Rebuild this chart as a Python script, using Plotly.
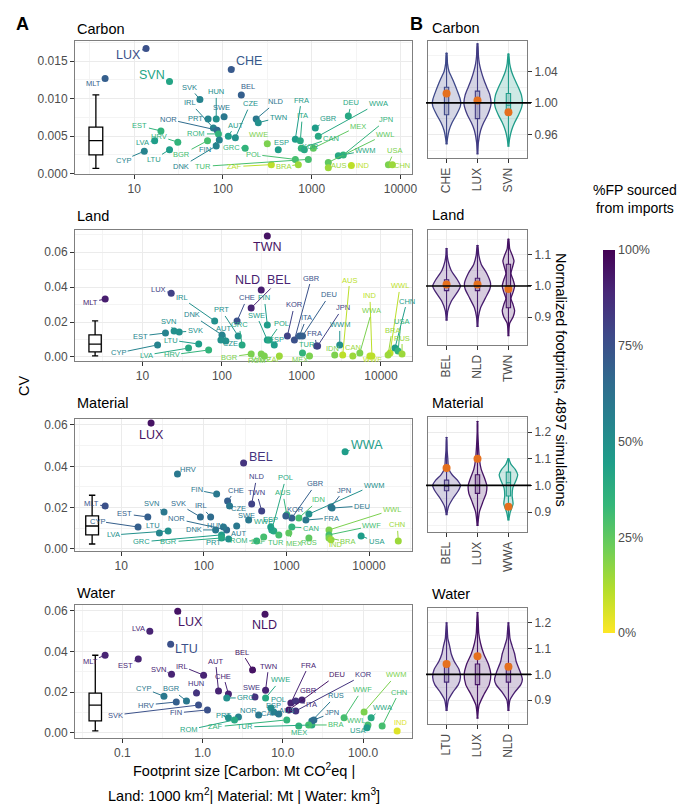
import numpy as np
import plotly.graph_objects as go
from plotly.colors import sample_colorscale

# ---------------- Panel A data (footprint size, CV, % imported) ----------------
carbon_codes = ["LUX","CHE","SVN","MLT","SVK","HUN","PRT","IRL","SWE","BEL",
                "NOR","ROM","AUT","CZE","FIN","DNK","GRC","EST","HRV","LVA",
                "CYP","LTU","BGR","NLD","TWN","WWE","ESP","POL","FRA","ITA",
                "GBR","DEU","WWA","MEX","CAN","KOR","JPN","WWL","WWM","USA",
                "CHN","IND","BRA","AUS","TUR","ZAF"]
carbon_size = [13.6,124,25,4.7,55,84,68,78,103,161,
               86,89,115,138,91,84,178,20,31,17,
               13,25,67,237,250,316,420,654,654,744,
               1098,2586,1186,1043,764,826,2270,1538,1995,7310,
               8110,2795,707,1538,916,351]
carbon_cv = [0.0167,0.0139,0.0123,0.0127,0.0099,0.0073,0.0073,0.0061,0.0076,0.0105,
             0.0058,0.0053,0.0050,0.0048,0.0045,0.0037,0.0034,0.0057,0.0042,0.0044,
             0.0030,0.0032,0.0044,0.0073,0.0068,0.0040,0.0032,0.0019,0.0046,0.0044,
             0.0061,0.0077,0.0050,0.0034,0.0034,0.0032,0.0025,0.0015,0.0024,0.0012,
             0.0012,0.0011,0.0012,0.0008,0.0019,0.0012]
carbon_imp = [75,72,42,70,55,50,55,55,60,70,
              65,35,45,50,55,55,35,35,35,45,
              55,45,30,60,50,20,45,30,45,40,
              45,40,40,25,35,40,35,25,40,20,
              15,10,15,15,30,10]
carbon_big = ["LUX","CHE","SVN"]
carbon_lab_dx = [-18,18,-18,-12,-10,0,-13,-23,-3,7,
                 -49,-22,7,15,-14,-35,-14,-21,-19,-12,
                 -21,-16,-26,20,20,-9,3,-42,6,2,
                 13,3,60,45,30,6,43,57,27,6,
                 10,12,-15,10,-105,-37]
carbon_lab_dy = [7,-8,-6,5,-12,-27,0,-25,-9,-8,
                 -11,0,-11,-34,10,21,-1,-5,-6,2,
                 9,10,14,-17,-5,-9,-7,-5,-39,-25,
                 -9,-13,-33,-22,-10,-3,-35,-28,-5,-14,
                 1,0,2,-2,7,2]

land_codes = ["TWN","NLD","BEL","MLT","LUX","IRL","DNK","PRT","CHE","FIN",
              "SWE","GRC","AUT","CZE","SVN","SVK","EST","LTU","CYP","LVA",
              "HRV","BGR","ROM","POL","ESP","KOR","GBR","ITA","DEU","FRA",
              "TUR","JPN","WWM","IDN","AUS","IND","WWA","CAN","WWL","CHN",
              "USA","BRA","RUS","MEX","ZAF","WWE","WWF"]
land_size = [372,312,233,3.4,23,81,100,160,155,372,
             372,179,112,97,25,29,19.5,51,15.5,38,
             68,233,312,394,455,665,815,943,1030,1549,
             1030,1596,3030,2620,3300,7690,5420,4424,13000,15000,
             16400,12280,18400,1262,527,341,7260]
land_cv = [0.0691,0.0383,0.0280,0.0331,0.0365,0.0206,0.0126,0.0120,0.0206,0.0183,
           0.0097,0.0069,0.0091,0.0097,0.0148,0.0143,0.0137,0.0074,0.0069,0.0051,
           0.0040,0.0017,0.0017,0.0097,0.0069,0.0120,0.0097,0.0120,0.0120,0.0063,
           0.0023,0.0063,0.0069,0.0011,0.0011,0.0006,0.0023,0.0006,0.0023,0.0051,
           0.0034,0.0011,0.0017,0.0006,0.0006,0.0006,0.0006]
land_imp = [95,92,90,92,80,50,55,50,75,45,
            45,40,50,50,50,50,55,45,55,40,
            35,20,20,40,45,80,75,70,70,75,
            35,80,50,20,10,10,20,15,10,45,
            35,15,15,20,15,20,10]
land_big = ["TWN","NLD","BEL"]
land_lab_dx = [0,-14,28,-15,-13,-33,-30,-17,10,-3,
               -11,-3,-2,10,-6,16,-25,-28,-39,-42,
               -37,-22,-4,12,2,7,17,7,27,-2,
               5,25,0,-2,7,-2,12,0,10,12,
               3,4,0,-10,-5,-3,3]
land_lab_dy = [11,-10,-28,3,-4,-23,-20,-26,-23,-27,
               -25,-20,-13,3,-10,-1,3,-4,8,7,
               5,3,6,-17,-5,-31,-62,-18,-41,-12,
               -8,-38,-20,-7,-75,-60,-42,-8,-67,-47,
               -30,-25,-16,4,4,4,4]

material_codes = ["LUX","BEL","WWA","HRV","MLT","FIN","CHE","NLD","TWN","CZE",
                  "SVN","EST","SVK","IRL","NOR","CYP","LTU","LVA","DNK","HUN",
                  "GRC","BGR","PRT","AUT","ROM","SWE","WWE","POL","GBR","AUS",
                  "KOR","JPN","IDN","DEU","FRA","WWM","WWL","WWF","CHN","USA",
                  "BRA","CAN","MEX","ESP","TUR","RUS","IND","ZAF"]
material_size = [23,303,5130,48,6.4,143,194,380,502,205,
                 33,21,91,121,189,16,29,37,139,173,
                 164,164,200,250,437,349,703,665,1163,1011,
                 984,3466,1414,3565,1720,1871,3275,3275,22600,8020,
                 3275,1163,1069,646,809,1871,3466,531]
material_cv = [0.0610,0.0416,0.0470,0.0363,0.0208,0.0266,0.0232,0.0218,0.0184,0.0208,
               0.0179,0.0155,0.0155,0.0155,0.0092,0.0106,0.0077,0.0087,0.0092,0.0106,
               0.0068,0.0053,0.0048,0.0111,0.0039,0.0140,0.0087,0.0092,0.0150,0.0165,
               0.0160,0.0203,0.0150,0.0198,0.0140,0.0169,0.0092,0.0068,0.0039,0.0063,
               0.0053,0.0106,0.0077,0.0106,0.0068,0.0053,0.0044,0.0058]
material_imp = [95,85,45,60,75,60,70,80,80,60,
                60,70,65,65,65,70,55,50,60,60,
                45,40,50,60,35,60,40,40,70,35,
                70,70,30,60,60,50,20,30,15,45,
                20,35,25,45,30,25,15,30]
material_big = ["LUX","BEL","WWA"]
material_lab_dx = [0,17,22,11,-14,-20,8,5,-5,9,
                   -13,-23,-22,-10,-50,-41,-6,-55,-22,-8,
                   -80,-53,-15,2,-18,-2,-10,14,24,-4,
                   10,13,20,30,26,65,63,43,-1,15,
                   19,19,5,0,-3,0,5,-5]
material_lab_dy = [12,-6,-7,-4,-2,-4,-11,-27,-18,3,
                   -8,-3,-13,-11,-11,-6,-8,4,0,-2,
                   7,4,3,7,0,-5,-9,-52,-34,-22,
                   -6,-17,-18,-2,-2,-29,-20,-9,-16,6,
                   4,1,10,-8,8,5,5,5]

water_codes = ["LUX","NLD","LTU","LVA","MLT","EST","SVN","IRL","HUN","AUT",
               "CHE","BEL","TWN","SWE","WWE","BGR","CYP","HRV","SVK","FIN",
               "GRC","NOR","PRT","ROM","ZAF","TUR","CAN","POL","FRA","DEU",
               "GBR","ITA","KOR","RUS","JPN","WWF","WWM","CHN","WWA","WWL",
               "USA","IND","BRA","MEX","ESP","AUS"]
water_size = [0.49,6.0,0.40,0.22,0.061,0.158,0.41,1.03,0.84,1.58,
              2.1,4.2,6.1,4.5,6.1,0.63,0.33,0.47,0.89,1.15,
              2.0,2.8,2.1,2.5,11.2,23,5.0,7.1,12.6,11.9,
              17.3,14.5,14.5,23,24.4,58,103,173,126,115,
              112,266,21,15.8,7.7,8.9]
water_cv = [0.0598,0.0583,0.0436,0.0500,0.0382,0.0363,0.0289,0.0284,0.0196,0.0206,
            0.0191,0.0309,0.0210,0.0176,0.0172,0.0157,0.0180,0.0152,0.0137,0.0113,
            0.0172,0.0078,0.0074,0.0064,0.0064,0.0039,0.0088,0.0123,0.0147,0.0113,
            0.0162,0.0157,0.0108,0.0059,0.0064,0.0074,0.0103,0.0034,0.0074,0.0039,
            0.0025,0.0010,0.0039,0.0034,0.0103,0.0093]
water_imp = [95,95,75,90,90,90,90,90,85,90,
             90,95,90,85,40,60,60,70,75,75,
             50,55,50,40,35,40,60,50,90,95,
             90,85,85,60,65,30,20,30,40,30,
             45,5,30,35,55,60]
water_big = ["LUX","NLD","LTU"]
water_lab_dx = [13,-1,16,-11,-15,-13,-13,-22,-1,-3,
                -5,-11,3,-3,15,-15,-20,-30,-83,-31,
                19,10,-5,-46,-71,-67,10,8,18,48,
                7,16,68,24,18,18,32,17,11,-12,
                -10,4,27,0,0,8]
water_lab_dy = [11,11,5,-3,6,6,-5,-9,-10,-30,
                -18,-18,-24,-10,-18,-12,-8,3,10,3,
                0,-7,-2,10,7,2,-2,-8,-38,-35,
                -9,4,-36,-25,-7,-28,-37,-34,-10,-4,
                3,-8,0,6,-6,-4]

# Box plot summaries of CV (lower whisker, q1, median, q3, upper whisker)
carbon_box = [0.0007, 0.0025, 0.0044, 0.0062, 0.0105]
land_box = [0.0006, 0.0029, 0.0074, 0.0126, 0.0206]
material_box = [0.0024, 0.0068, 0.0111, 0.0160, 0.0260]
water_box = [0.0010, 0.0059, 0.0137, 0.0196, 0.0382]

# ---------------- Panel B data (normalized footprint density profiles) ----------------
carbon_v_cats = ["CHE", "LUX", "SVN"]
carbon_v_imp = [78, 82, 45]
carbon_v_y = [[0.948,0.955,0.965,0.975,0.985,0.995,1.0,1.005,1.015,1.025,1.033,1.04,1.05,1.063],
              [0.935,0.95,0.965,0.975,0.985,0.995,1.0,1.01,1.02,1.03,1.04,1.05,1.06,1.075],
              [0.945,0.955,0.965,0.975,0.985,0.995,1.0,1.01,1.02,1.03,1.04,1.05,1.062]]
carbon_v_w = [[0.01,0.03,0.08,0.18,0.32,0.44,0.46,0.44,0.35,0.25,0.16,0.08,0.03,0.01],
              [0.01,0.03,0.10,0.20,0.33,0.42,0.44,0.40,0.30,0.20,0.12,0.06,0.03,0.01],
              [0.01,0.04,0.10,0.20,0.33,0.43,0.45,0.42,0.32,0.20,0.10,0.04,0.01]]
carbon_v_box = [[0.985, 1.000, 1.020], [0.980, 1.000, 1.015], [0.985, 0.997, 1.012]]
carbon_v_obs = [1.012, 1.003, 0.988]

land_v_cats = ["BEL", "NLD", "TWN"]
land_v_imp = [90, 92, 95]
land_v_y = [[0.89,0.92,0.95,0.98,1.0,1.02,1.05,1.08,1.10,1.12],
            [0.87,0.90,0.93,0.96,0.99,1.01,1.04,1.07,1.10,1.13],
            [0.84,0.88,0.90,0.92,0.94,0.96,0.98,1.0,1.02,1.04,1.06,1.08,1.10,1.12,1.15]]
land_v_w = [[0.01,0.04,0.15,0.35,0.45,0.35,0.15,0.05,0.02,0.01],
            [0.01,0.03,0.10,0.25,0.40,0.42,0.30,0.12,0.04,0.01],
            [0.01,0.04,0.15,0.20,0.15,0.08,0.15,0.20,0.15,0.08,0.13,0.18,0.12,0.04,0.01]]
land_v_box = [[0.985, 1.000, 1.020], [0.985, 1.005, 1.025], [0.930, 1.000, 1.070]]
land_v_obs = [1.005, 1.005, 0.990]

material_v_cats = ["BEL", "LUX", "WWA"]
material_v_imp = [85, 95, 45]
material_v_y = [[0.89,0.92,0.95,0.98,1.0,1.02,1.04,1.06,1.08,1.10,1.13,1.18],
                [0.85,0.90,0.94,0.97,1.0,1.03,1.06,1.10,1.15,1.20,1.24],
                [0.87,0.90,0.93,0.96,0.99,1.02,1.04,1.06,1.08,1.10]]
material_v_w = [[0.01,0.06,0.20,0.38,0.45,0.35,0.18,0.08,0.05,0.04,0.02,0.005],
                [0.01,0.06,0.18,0.28,0.30,0.22,0.12,0.06,0.03,0.01,0.005],
                [0.01,0.06,0.15,0.12,0.14,0.25,0.30,0.22,0.08,0.01]]
material_v_box = [[0.980, 0.997, 1.020], [0.970, 1.000, 1.040], [0.960, 1.010, 1.050]]
material_v_obs = [1.065, 1.100, 0.920]

water_v_cats = ["LTU", "LUX", "NLD"]
water_v_imp = [88, 95, 92]
water_v_y = [[0.86,0.90,0.93,0.96,0.99,1.02,1.05,1.08,1.11,1.14,1.20],
             [0.83,0.88,0.92,0.96,1.0,1.04,1.08,1.12,1.16,1.24],
             [0.86,0.90,0.93,0.96,0.98,1.01,1.05,1.08,1.11,1.14,1.20]]
water_v_w = [[0.01,0.06,0.20,0.38,0.45,0.40,0.25,0.15,0.10,0.04,0.005],
             [0.005,0.05,0.20,0.38,0.43,0.35,0.20,0.10,0.04,0.005],
             [0.01,0.05,0.20,0.40,0.45,0.38,0.25,0.20,0.12,0.05,0.005]]
water_v_box = [[0.970, 1.000, 1.030], [0.960, 1.000, 1.040], [0.970, 1.000, 1.040]]
water_v_obs = [1.040, 1.070, 1.030]

# ---------------- helpers ----------------
W, H = 685, 807
FONT = "Liberation Sans, Arial, sans-serif"
TXT = "#4D4D4D"
BORDER = "#7F7F7F"
GRID = "#EBEBEB"
MINOR = "#F4F4F4"
ORANGE = "#E5701E"


def fx(p):
    return p / W


def fy(p):
    return 1 - p / H


def col(imp):
    return sample_colorscale("Viridis", [1 - imp / 100.0])[0]


def rgba(c, a):
    vals = [float(v) for v in c[c.find("(") + 1:c.find(")")].split(",")]
    return "rgba(%d,%d,%d,%.2f)" % (vals[0], vals[1], vals[2], a)


def an(n, letter):
    return f"{letter}axis" if n == 1 else f"{letter}axis{n}"


def ref(n, letter):
    return letter if n == 1 else f"{letter}{n}"


panels = [
    dict(name="Carbon", codes=carbon_codes, size=carbon_size, cv=carbon_cv, imp=carbon_imp,
         big=carbon_big, dx=carbon_lab_dx, dy=carbon_lab_dy, box=carbon_box, boxpos=3.7,
         xrange=[0.333, 4.13], xt=[10, 100, 1000, 10000], xtt=["10", "100", "1000", "10000"],
         xminor=[10 ** 0.5, 10 ** 1.5, 10 ** 2.5, 10 ** 3.5],
         yrange=[-0.00005, 0.0177], yt=[0, 0.005, 0.010, 0.015], yfmt=".3f", ymin0=0.0025, ymind=0.005,
         vc=carbon_v_cats, vimp=carbon_v_imp, vy=carbon_v_y, vw=carbon_v_w, vbox=carbon_v_box,
         vobs=carbon_v_obs, vrange=[0.930, 1.0787], vt=[0.96, 1.00, 1.04], vtt=["0.96", "1.00", "1.04"],
         vmin0=0.94, vmind=0.04,
         A=(33, 166), B=(33, 150), tA=21, tB=20),
    dict(name="Land", codes=land_codes, size=land_size, cv=land_cv, imp=land_imp,
         big=land_big, dx=land_lab_dx, dy=land_lab_dy, box=land_box, boxpos=2.54,
         xrange=[0.152, 4.39], xt=[10, 100, 1000, 10000], xtt=["10", "100", "1000", "10000"],
         xminor=[10 ** 0.5, 10 ** 1.5, 10 ** 2.5, 10 ** 3.5],
         yrange=[-0.0023, 0.0726], yt=[0, 0.02, 0.04, 0.06], yfmt=".2f", ymin0=0.01, ymind=0.02,
         vc=land_v_cats, vimp=land_v_imp, vy=land_v_y, vw=land_v_w, vbox=land_v_box,
         vobs=land_v_obs, vrange=[0.81, 1.18], vt=[0.9, 1.0, 1.1], vtt=["0.9", "1.0", "1.1"],
         vmin0=0.85, vmind=0.1,
         A=(222, 353), B=(222, 337), tA=208, tB=207),
    dict(name="Material", codes=material_codes, size=material_size, cv=material_cv, imp=material_imp,
         big=material_big, dx=material_lab_dx, dy=material_lab_dy, box=material_box, boxpos=4.45,
         xrange=[0.441, 4.52], xt=[10, 100, 1000, 10000], xtt=["10", "100", "1000", "10000"],
         xminor=[10 ** 0.5, 10 ** 1.5, 10 ** 2.5, 10 ** 3.5, 10 ** 4.5],
         yrange=[-0.001, 0.0629], yt=[0, 0.02, 0.04, 0.06], yfmt=".2f", ymin0=0.01, ymind=0.02,
         vc=material_v_cats, vimp=material_v_imp, vy=material_v_y, vw=material_v_w, vbox=material_v_box,
         vobs=material_v_obs, vrange=[0.825, 1.257], vt=[0.9, 1.0, 1.1, 1.2], vtt=["0.9", "1.0", "1.1", "1.2"],
         vmin0=0.85, vmind=0.1,
         A=(411, 543), B=(409, 524), tA=395, tB=395),
    dict(name="Water", codes=water_codes, size=water_size, cv=water_cv, imp=water_imp,
         big=water_big, dx=water_lab_dx, dy=water_lab_dy, box=water_box, boxpos=0.046,
         xrange=[-1.59, 2.61], xt=[0.1, 1, 10, 100], xtt=["0.1", "1.0", "10.0", "100.0"],
         xminor=[10 ** -1.5, 10 ** -0.5, 10 ** 0.5, 10 ** 1.5],
         yrange=[-0.0025, 0.0629], yt=[0, 0.02, 0.04, 0.06], yfmt=".2f", ymin0=0.01, ymind=0.02,
         vc=water_v_cats, vimp=water_v_imp, vy=water_v_y, vw=water_v_w, vbox=water_v_box,
         vobs=water_v_obs, vrange=[0.807, 1.258], vt=[0.9, 1.0, 1.1, 1.2], vtt=["0.9", "1.0", "1.1", "1.2"],
         vmin0=0.85, vmind=0.1,
         A=(597, 730), B=(600, 716), tA=585, tB=586),
]

fig = go.Figure()
layout = dict(width=W, height=H, margin=dict(l=0, r=0, t=0, b=0, autoexpand=False),
              paper_bgcolor="white", plot_bgcolor="white", showlegend=False,
              font=dict(family=FONT, size=12, color=TXT))
annotations = []
shapes = []

for i, p in enumerate(panels):
    na, nb = 2 * i + 1, 2 * i + 2
    xa, ya, xb, yb = ref(na, "x"), ref(na, "y"), ref(nb, "x"), ref(nb, "y")

    # ---------- axes A ----------
    layout[an(na, "x")] = dict(
        domain=[fx(67), fx(404)], anchor=ya, type="log", range=p["xrange"],
        tickmode="array", tickvals=p["xt"], ticktext=p["xtt"],
        showline=True, mirror=True, linecolor=BORDER, linewidth=1,
        ticks="outside", ticklen=4, tickcolor="#333333", tickwidth=1,
        showgrid=True, gridcolor=GRID, gridwidth=1, zeroline=False,
        minor=dict(tickmode="array", tickvals=p["xminor"], showgrid=True, gridcolor=MINOR, gridwidth=0.6),
        tickfont=dict(size=12, color=TXT, family=FONT))
    layout[an(na, "y")] = dict(
        domain=[fy(p["A"][1]), fy(p["A"][0])], anchor=xa, range=p["yrange"],
        tickmode="array", tickvals=p["yt"], tickformat=p["yfmt"],
        showline=True, mirror=True, linecolor=BORDER, linewidth=1,
        ticks="outside", ticklen=4, tickcolor="#333333", tickwidth=1,
        showgrid=True, gridcolor=GRID, gridwidth=1, zeroline=False,
        minor=dict(tick0=p["ymin0"], dtick=p["ymind"], showgrid=True, gridcolor=MINOR, gridwidth=0.6),
        tickfont=dict(size=12, color=TXT, family=FONT))

    # ---------- axes B ----------
    layout[an(nb, "x")] = dict(
        domain=[fx(420), fx(519)], anchor=yb, range=[-0.6, 2.6],
        tickmode="array", tickvals=[0, 1, 2], ticktext=p["vc"], tickangle=-90,
        showline=True, mirror=True, linecolor=BORDER, linewidth=1,
        ticks="outside", ticklen=4, tickcolor="#333333", tickwidth=1,
        showgrid=True, gridcolor=GRID, gridwidth=1, zeroline=False,
        tickfont=dict(size=12, color=TXT, family=FONT))
    layout[an(nb, "y")] = dict(
        domain=[fy(p["B"][1]), fy(p["B"][0])], anchor=xb, range=p["vrange"], side="right",
        tickmode="array", tickvals=p["vt"], ticktext=p["vtt"],
        showline=True, mirror=True, linecolor=BORDER, linewidth=1,
        ticks="outside", ticklen=4, tickcolor="#333333", tickwidth=1,
        showgrid=True, gridcolor=GRID, gridwidth=1, zeroline=False,
        minor=dict(tick0=p["vmin0"], dtick=p["vmind"], showgrid=True, gridcolor=MINOR, gridwidth=0.6),
        tickfont=dict(size=12, color=TXT, family=FONT))

    # ---------- box plot of CVs ----------
    b = p["box"]
    fig.add_trace(go.Box(x=[p["boxpos"]], lowerfence=[b[0]], q1=[b[1]], median=[b[2]], q3=[b[3]],
                         upperfence=[b[4]], width=0.155, fillcolor="white",
                         line=dict(color="black", width=1.3), boxpoints=False,
                         xaxis=xa, yaxis=ya, hoverinfo="skip"))

    # ---------- scatter points ----------
    colors = [col(v) for v in p["imp"]]
    marker = dict(color=p["imp"], colorscale="Viridis", reversescale=True, cmin=0, cmax=100, size=7,
                  line=dict(width=0))
    if i == 0:
        marker.update(showscale=True, colorbar=dict(
            x=fx(585), xanchor="left", y=fy(433.5), yanchor="middle",
            len=403, lenmode="pixels", thickness=12, outlinewidth=0,
            tickmode="array", tickvals=[0, 25, 50, 75, 100],
            ticktext=["0%", "25%", "50%", "75%", "100%"], ticks="",
            tickfont=dict(size=12.5, color=TXT, family=FONT), title=dict(text="")))
    fig.add_trace(go.Scatter(x=p["size"], y=p["cv"], mode="markers", marker=marker,
                             xaxis=xa, yaxis=ya, hoverinfo="text", text=p["codes"]))

    # ---------- repelled labels ----------
    for code, sx, cv, c, dx, dy in zip(p["codes"], p["size"], p["cv"], colors, p["dx"], p["dy"]):
        big = code in p["big"]
        annotations.append(dict(
            x=float(np.log10(sx)), y=cv, xref=xa, yref=ya, text=code,
            showarrow=True, ax=dx, ay=dy, arrowhead=0, arrowwidth=1.0, arrowcolor=c,
            standoff=3, font=dict(size=12.5 if big else 7.5, color=c, family=FONT),
            xanchor="center", yanchor="middle"))

    # ---------- violins ----------
    for k in range(3):
        c = col(p["vimp"][k])
        ys = p["vy"][k]
        ws = p["vw"][k]
        xs = [k + w for w in ws] + [k - w for w in ws[::-1]]
        yy = list(ys) + list(ys[::-1])
        fig.add_trace(go.Scatter(x=xs, y=yy, mode="lines", fill="toself",
                                 fillcolor=rgba(c, 0.22), line=dict(color=c, width=1.3, shape="spline", smoothing=0.6),
                                 xaxis=xb, yaxis=yb, hoverinfo="skip"))
        q = p["vbox"][k]
        fig.add_trace(go.Box(x=[k], lowerfence=[min(ys)], q1=[q[0]], median=[q[1]], q3=[q[2]],
                             upperfence=[max(ys)], width=0.14, fillcolor=rgba(c, 0.25),
                             line=dict(color=c, width=1.1), boxpoints=False,
                             xaxis=xb, yaxis=yb, hoverinfo="skip"))
    fig.add_trace(go.Scatter(x=[0, 1, 2], y=p["vobs"], mode="markers",
                             marker=dict(color=ORANGE, size=8, symbol="circle"),
                             xaxis=xb, yaxis=yb, hoverinfo="skip"))
    shapes.append(dict(type="line", xref=f"{xb} domain", yref=yb, x0=-0.02, x1=1.04, y0=1, y1=1,
                       line=dict(color="black", width=1.6), layer="above"))

    # ---------- panel titles ----------
    annotations.append(dict(x=fx(67), y=fy(p["tA"]), xref="paper", yref="paper", text=p["name"],
                            showarrow=False, xanchor="left", yanchor="middle",
                            font=dict(size=14.5, color="black", family=FONT)))
    annotations.append(dict(x=fx(422), y=fy(p["tB"]), xref="paper", yref="paper", text=p["name"],
                            showarrow=False, xanchor="left", yanchor="middle",
                            font=dict(size=14.5, color="black", family=FONT)))

# ---------- global text ----------
annotations += [
    dict(x=fx(6), y=fy(16), xref="paper", yref="paper", text="<b>A</b>", showarrow=False,
         xanchor="left", yanchor="middle", font=dict(size=18, color="black", family=FONT)),
    dict(x=fx(400), y=fy(16), xref="paper", yref="paper", text="<b>B</b>", showarrow=False,
         xanchor="left", yanchor="middle", font=dict(size=18, color="black", family=FONT)),
    dict(x=fx(16), y=fy(378), xref="paper", yref="paper", text="CV", showarrow=False, textangle=-90,
         xanchor="center", yanchor="middle", font=dict(size=14.5, color="black", family=FONT)),
    dict(x=fx(236), y=fy(762), xref="paper", yref="paper",
         text="Footprint size [Carbon: Mt CO<sup>2</sup>eq |", showarrow=False,
         xanchor="center", yanchor="middle", font=dict(size=14.5, color="black", family=FONT)),
    dict(x=fx(236), y=fy(787), xref="paper", yref="paper",
         text="Land: 1000 km<sup>2</sup>| Material: Mt | Water: km<sup>3</sup>]", showarrow=False,
         xanchor="center", yanchor="middle", font=dict(size=14.5, color="black", family=FONT)),
    dict(x=fx(553), y=fy(372), xref="paper", yref="paper",
         text="Normalized footprints, 4897 simulations", showarrow=False, textangle=90,
         xanchor="center", yanchor="middle", font=dict(size=14.5, color="black", family=FONT)),
    dict(x=fx(627), y=fy(191), xref="paper", yref="paper",
         text="%FP sourced<br>from imports", showarrow=False,
         xanchor="center", yanchor="middle", align="center", font=dict(size=14, color="black", family=FONT)),
]

layout["annotations"] = annotations
layout["shapes"] = shapes
fig.update_layout(**layout)
fig.write_html("out.html")
